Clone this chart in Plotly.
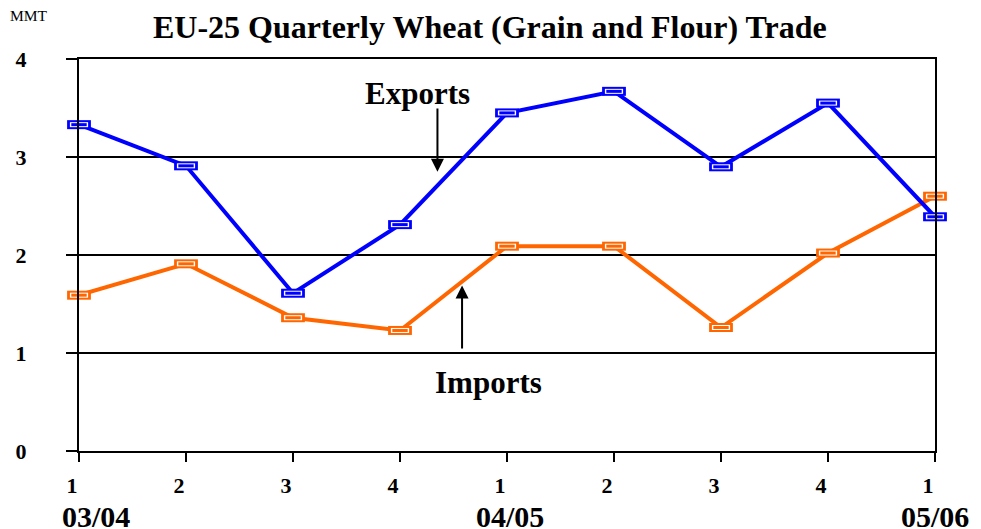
import plotly.graph_objects as go

quarters = ["1", "2", "3", "4", "1", "2", "3", "4", "1"]
years = ["03/04", "04/05", "05/06"]
year_pos = [0, 4, 8]
exports = [3.33, 2.91, 1.61, 2.31, 3.45, 3.67, 2.90, 3.55, 2.39]
imports = [1.59, 1.91, 1.36, 1.23, 2.09, 2.09, 1.26, 2.02, 2.60]
x = list(range(len(quarters)))

serif = "Liberation Serif, Times New Roman, serif"
blue = "#0000FF"
orange = "#FF6600"

fig = go.Figure()

for vals, col, name in [(imports, orange, "Imports"), (exports, blue, "Exports")]:
    fig.add_trace(go.Scatter(x=x, y=vals, mode="lines", name=name,
                             line=dict(color=col, width=4)))
    # excel-style flat rectangle markers: coloured block, white ring, coloured core
    for sz, lw, c in [(17, 9, col), (13, 5, "white"), (11, 3, col)]:
        fig.add_trace(go.Scatter(x=x, y=vals, mode="markers", showlegend=False, hoverinfo="skip",
                                 marker=dict(symbol="line-ew", size=sz,
                                             line=dict(color=c, width=lw)),
                                 cliponaxis=False))

# page body has an 8px margin, so the figure is a bit smaller than the window
fig.update_layout(
    width=973, height=521,
    plot_bgcolor="white", paper_bgcolor="white",
    showlegend=False,
    margin=dict(l=71, r=46, t=51, b=78),
    font=dict(family=serif, color="black"),
    xaxis=dict(range=[0, 8], tickvals=x, ticktext=quarters, automargin=False,
               showgrid=False, zeroline=False,
               showline=True, linecolor="black", linewidth=2, mirror=True,
               ticks="outside", ticklen=9, tickwidth=2, tickcolor="black",
               tickfont=dict(size=22, family=serif, weight="bold"),
               ticklabelstandoff=5, ticklabelshift=-7),
    yaxis=dict(range=[0, 4], tickvals=[0, 1, 2, 3, 4], automargin=False,
               showgrid=True, gridcolor="black", gridwidth=2, zeroline=False,
               showline=True, linecolor="black", linewidth=2, mirror=True,
               ticks="outside", ticklen=11, tickwidth=2, tickcolor="black",
               tickfont=dict(size=22, family=serif, weight="bold"),
               ticklabelstandoff=35),
)

for yr, pos, dx in zip(years, year_pos, [17, 3, 0]):
    fig.add_annotation(x=pos, y=0, xref="x", yref="paper", yshift=-65, xshift=dx,
                       yanchor="middle", text="<b>%s</b>" % yr, showarrow=False,
                       font=dict(size=30, family=serif))

fig.add_annotation(x=0.48, y=1, xref="paper", yref="paper", yshift=32, yanchor="middle",
                   text="<b>EU-25 Quarterly Wheat (Grain and Flour) Trade</b>",
                   showarrow=False, font=dict(size=32, family=serif))
fig.add_annotation(x=-0.058, y=1, xref="paper", yref="paper", yshift=44, yanchor="middle",
                   xanchor="center", text="MMT", showarrow=False,
                   font=dict(size=15.5, family=serif))

# labels with pointer arrows
fig.add_annotation(x=3.35, y=2.85, xref="x", yref="y", ax=3.35, ay=3.51, axref="x", ayref="y",
                   text="", showarrow=True, arrowhead=2, arrowsize=1.3, arrowwidth=2, arrowcolor="black")
fig.add_annotation(x=3.16, y=3.65, xref="x", yref="y", text="<b>Exports</b>",
                   showarrow=False, font=dict(size=31, family=serif))
fig.add_annotation(x=3.58, y=1.69, xref="x", yref="y", ax=3.58, ay=1.03, axref="x", ayref="y",
                   text="", showarrow=True, arrowhead=2, arrowsize=1.3, arrowwidth=2, arrowcolor="black")
fig.add_annotation(x=3.83, y=0.70, xref="x", yref="y", text="<b>Imports</b>",
                   showarrow=False, font=dict(size=31, family=serif))

fig.write_html("out.html")
